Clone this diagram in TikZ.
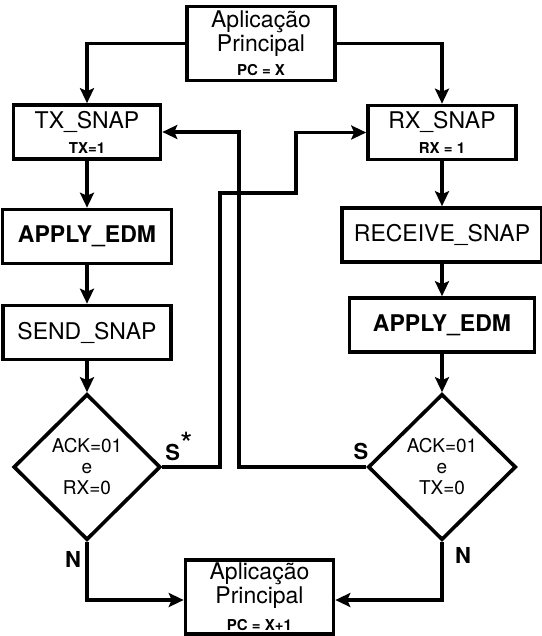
\documentclass[tikz,border=0pt]{standalone}
\usepackage{fontspec}
\setmainfont{TeX Gyre Heros}
\usetikzlibrary{shapes.geometric,arrows.meta}

\newcommand{\regval}[1]{{\fontsize{7.5}{9}\selectfont\bfseries #1}}

\begin{document}
\begin{tikzpicture}[
    x=0.5pt, y=-0.5pt,
    box/.style={draw, line width=1.8pt, align=center, inner sep=0pt, minimum height=27pt, font=\fontsize{11.5}{11}\selectfont},
    appbox/.style={box, minimum width=74pt, minimum height=37pt},
    decision/.style={draw, diamond, line width=1.8pt, align=center, inner sep=0pt, minimum width=73.5pt, minimum height=73pt, font=\fontsize{9.5}{10.5}\selectfont},
    flow/.style={line width=1.8pt, -{Stealth[length=7.5pt, width=7pt, inset=1.5pt]}},
    branch/.style={font=\fontsize{11}{12}\selectfont\bfseries},
]

\useasboundingbox (0,0) rectangle (541,636);

\def\lx{87}  \def\rx{442}

% Application entry and exit
\node[appbox] (app1) at (261,43.5) {Aplicação\\Principal\\[1pt]\regval{PC = X}};
\node[appbox] (app2) at (259.5,597) {Aplicação\\Principal\\[2.5pt]\regval{PC = X+1}};

% Transmit side (left column)
\node[box, minimum width=73.5pt] (txsnap) at (\lx,132) {TX\_SNAP\\[1.5pt]\regval{TX=1}};
\node[box, minimum width=84.5pt, font=\fontsize{11.5}{11}\selectfont\bfseries] (edml) at (\lx,236.5) {APPLY\_EDM};
\node[box, minimum width=84pt] (send) at (\lx,332.5) {SEND\_SNAP};
\node[decision] (decl) at (\lx,467) {ACK=01\\e\\RX=0};

% Receive side (right column)
\node[box, minimum width=74pt] (rxsnap) at (\rx,132.5) {RX\_SNAP\\[1.5pt]\regval{RX = 1}};
\node[box, minimum width=100pt] (recv) at (\rx,235) {RECEIVE\_SNAP};
\node[box, minimum width=92.5pt, font=\fontsize{11.5}{11}\selectfont\bfseries] (edmr) at (\rx,325) {APPLY\_EDM};
\node[decision, minimum width=74pt] (decr) at (\rx,467) {ACK=01\\e\\TX=0};

% Straight flow
\draw[flow] (app1.west) -| (txsnap.north);
\draw[flow] (app1.east) -| (rxsnap.north);
\draw[flow] (txsnap) -- (edml);
\draw[flow] (edml) -- (send);
\draw[flow] (send) -- (decl);
\draw[flow] (rxsnap) -- (recv);
\draw[flow] (recv) -- (edmr);
\draw[flow] (edmr) -- (decr);

% Crossing branches
\coordinate (sturn) at (239,132);
\coordinate (sjog1) at (220,193);
\coordinate (sjog2) at (296,193);
\draw[flow] (decr.west) -| (sturn) -- (txsnap.east);
\draw[flow] (decl.east) -| (sjog1) -- (sjog2) |- (rxsnap.west);

% Exit branches
\draw[flow] (decl.south) |- ([yshift=-1.5pt]app2.west);
\draw[flow] (decr.south) |- ([yshift=-1.5pt]app2.east);

% Branch labels
\node[branch] (sl) at (179,446) {S\raisebox{2.5pt}{\mdseries\fontsize{16}{16}\selectfont*}};
\node[branch] (sr) at (361,451) {S};
\node[branch] (nl) at (73,559) {N};
\node[branch] (nr) at (463,555) {N};

\end{tikzpicture}
\end{document}
